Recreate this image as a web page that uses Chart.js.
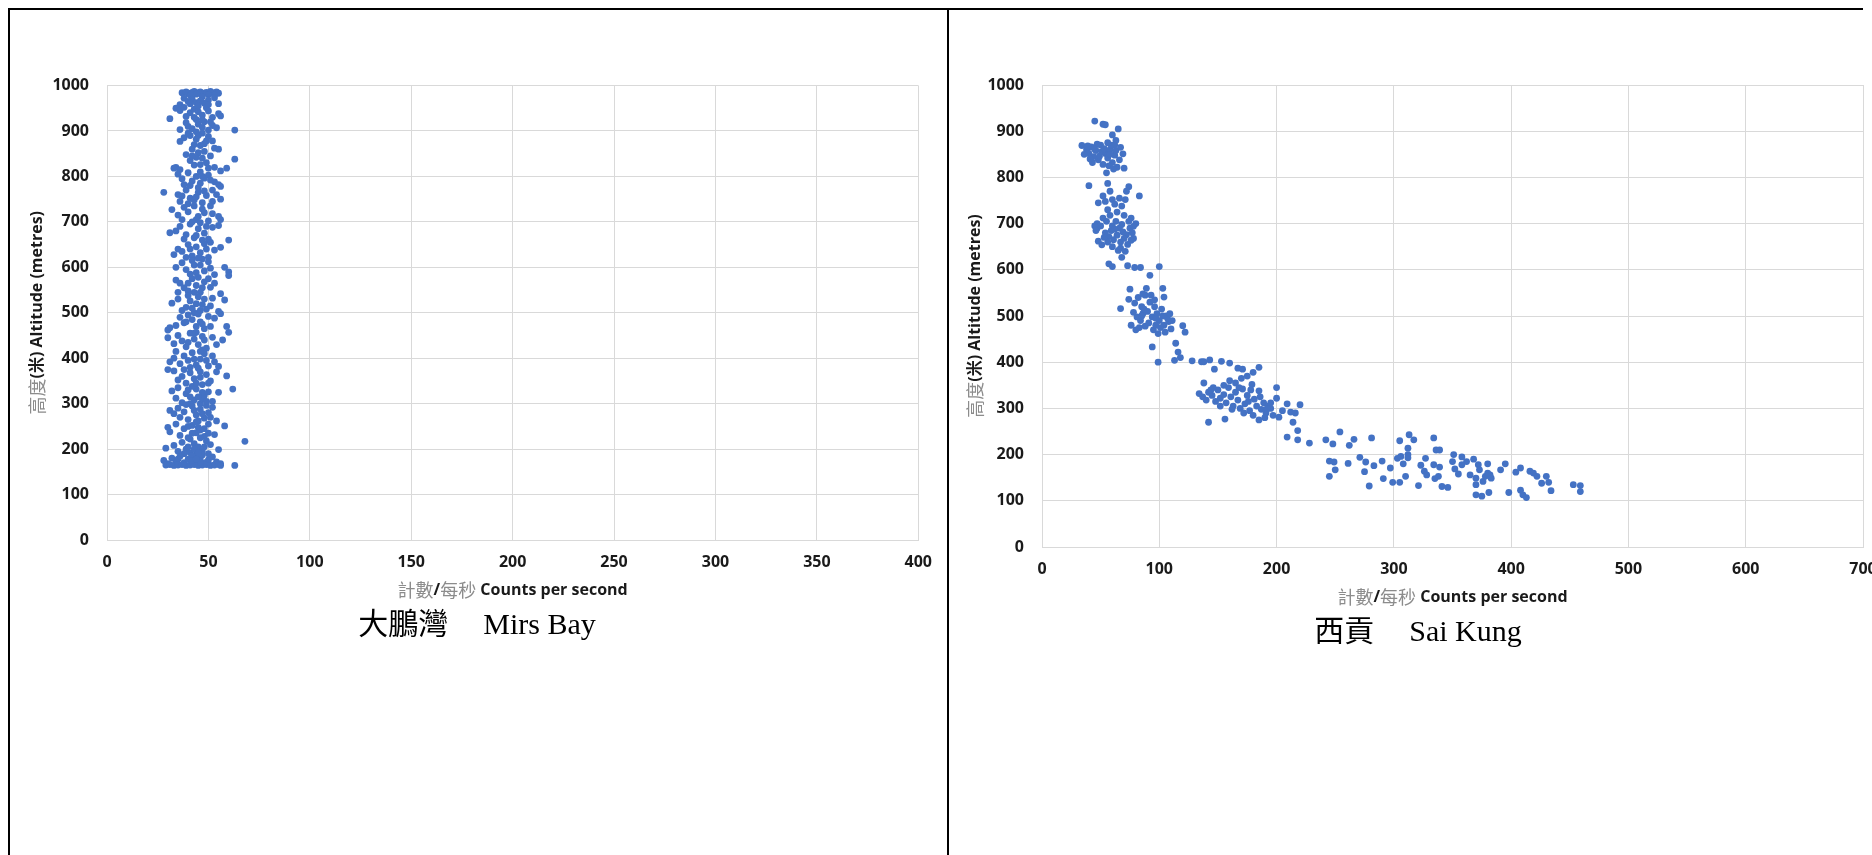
<!DOCTYPE html>
<html>
<head>
<meta charset="utf-8">
<script src="https://cdn.jsdelivr.net/npm/chart.js@4.4.1/dist/chart.umd.min.js"></script>
<style>
  html, body { margin: 0; padding: 0; background: #fff; overflow: hidden; width: 1872px; height: 855px; }
  .line { position: absolute; background: #000; }
  canvas { position: absolute; }
</style>
</head>
<body>
<div class="line" style="left:8px;top:8px;width:1855px;height:2px"></div>
<div class="line" style="left:8px;top:8px;width:2px;height:847px"></div>
<div class="line" style="left:947px;top:8px;width:2px;height:847px"></div>
<canvas id="mirsChart" width="934" height="844" style="left:11px;top:11px"></canvas>
<canvas id="saiChart" width="961" height="844" style="left:951px;top:11px"></canvas>
<script>
// Ejes y etiquetas
const altitudeTicks = [0, 100, 200, 300, 400, 500, 600, 700, 800, 900, 1000];
const mirsTicks = [0, 50, 100, 150, 200, 250, 300, 350, 400];
const saiTicks = [0, 100, 200, 300, 400, 500, 600, 700];
const captions = { mirs: ['大鵬灣', 'Mirs Bay'], sai: ['西貢', 'Sai Kung'] };

// 大鵬灣 Mirs Bay: [計數/每秒, 高度]
const mirsBay = [
  [37,984],[39,986],[40,983],[42,985],[43,987],[45,984],[46,986],[48,983],[49,985],[51,987],[52,984],[54,986],[55,983],[44,981],[50,980],[41,979],[53,979],
  [38,972],[42,970],[47,975],[50,968],[53,973],[44,962],[48,961],[36,958],[55,960],[46,966],[40,965],
  [34,950],[36,945],[38,952],[41,940],[43,948],[47,935],[50,944],[52,930],[55,938],[56,933],[45,942],[31,927],[39,932],[49,951],
  [36,903],[40,910],[42,905],[45,915],[47,908],[48,920],[50,902],[52,912],[54,907],[63,902],[44,925],[39,918],
  [36,877],[38,885],[41,890],[43,870],[44,882],[46,868],[47,895],[49,878],[53,862],[55,860],[42,860],[45,890],[48,872],
  [34,820],[36,815],[39,848],[41,835],[43,825],[45,852],[47,840],[49,830],[51,845],[53,820],[56,812],[59,818],[63,838],[44,842],[46,826],
  [33,818],[35,805],[37,795],[40,808],[42,790],[44,800],[46,785],[48,796],[50,803],[53,788],[55,782],[56,778],[38,782],[28,765],[45,775],[51,792],
  [35,760],[37,757],[39,770],[41,752],[43,748],[45,765],[47,742],[49,758],[52,745],[54,760],[56,750],[36,745],[48,768],
  [32,727],[35,715],[37,705],[40,722],[43,735],[45,712],[47,728],[50,702],[52,718],[55,712],[56,705],[38,732],[44,705],
  [31,676],[34,680],[36,690],[39,672],[41,695],[43,665],[45,685],[48,675],[50,662],[52,688],[55,692],[60,660],[46,698],[38,662],
  [33,628],[35,640],[37,635],[40,650],[42,625],[44,645],[46,632],[48,652],[50,622],[53,638],[56,644],[39,622],[51,655],
  [34,600],[37,610],[39,595],[42,615],[44,588],[46,605],[48,592],[50,612],[53,584],[58,600],[60,590],[60,582],[41,585],[47,618],
  [34,572],[36,565],[38,555],[40,548],[42,575],[44,560],[46,545],[48,568],[51,556],[53,565],[56,542],[35,545],[45,578],
  [32,521],[35,530],[37,505],[39,512],[41,526],[43,500],[45,535],[47,518],[49,508],[52,532],[55,503],[58,528],[40,538],
  [30,462],[31,467],[34,472],[36,490],[38,478],[40,495],[42,485],[44,470],[46,480],[48,465],[50,492],[53,488],[56,498],[59,470],[60,457],[45,497],
  [30,445],[33,432],[35,450],[37,438],[39,425],[41,455],[43,442],[45,430],[47,448],[49,422],[52,446],[54,430],[57,440],[44,457],
  [31,392],[33,400],[34,415],[36,388],[38,405],[40,395],[42,412],[44,385],[46,398],[48,410],[50,383],[53,392],[55,382],[30,375],[47,418],
  [33,372],[35,352],[37,360],[39,345],[41,368],[43,355],[45,378],[47,342],[49,364],[51,350],[54,370],[59,361],[46,358],[38,375],
  [32,328],[34,312],[35,335],[37,302],[39,322],[41,315],[43,308],[44,332],[46,300],[48,318],[50,326],[52,305],[55,325],[62,332],[42,338],[47,310],
  [31,285],[33,278],[35,290],[36,270],[38,282],[40,265],[42,295],[44,275],[46,288],[48,268],[50,280],[52,292],[54,262],[39,298],[45,262],[49,296],
  [30,248],[31,238],[34,255],[36,230],[38,245],[40,225],[42,252],[44,236],[46,242],[48,228],[50,255],[53,232],[58,251],[45,248],[41,222],
  [29,202],[33,208],[35,195],[37,215],[39,200],[41,192],[43,212],[45,205],[47,196],[49,218],[51,210],[55,199],[68,217],[44,188],[38,190],
  [28,175],[30,168],[32,180],[34,172],[36,184],[38,170],[40,178],[42,186],[44,174],[46,182],[48,170],[50,176],[52,183],[54,172],[56,168],[63,164],[35,178],[47,187],
  [29,165],[31,166],[33,164],[35,165],[37,166],[39,164],[41,165],[43,166],[45,164],[47,165],[49,166],[51,164],[53,165],[55,166],[56,164],
  [41,960],[45,955],[50,958],[43,930],[47,925],[51,920],[40,895],[44,898],[50,888],[52,878],[42,845],[48,855],[50,818],[46,810],[41,780],[47,800],
  [52,770],[44,755],[40,740],[48,720],[51,735],[42,700],[49,690],[44,670],[47,660],[41,640],[49,640],[45,620],[43,605],[51,598],[40,565],[47,555],
  [50,575],[43,545],[44,520],[48,530],[51,515],[42,510],[46,505],[39,480],[47,475],[51,470],[43,455],[48,440],[40,435],[46,415],[52,405],[43,398],
  [49,395],[41,380],[46,370],[50,345],[44,345],[40,330],[47,325],[45,315],[41,300],[49,305],[43,285],[47,278],[51,270],[44,260],[40,250],[48,245],
  [42,235],[46,225],[50,235],[43,200],[48,205],[40,205],[45,192],[42,175],[46,172],[50,190],[44,178]
];

// 西貢 Sai Kung: [計數/每秒, 高度]
const saiKung = [
  [45,922],[52,915],[54,914],[65,905],[60,892],[63,880],[34,869],[38,860],[40,852],[42,866],[44,845],[46,858],[48,838],[50,870],[52,828],[54,852],
  [56,842],[58,860],[60,832],[62,848],[64,822],[66,838],[69,851],[70,820],[55,810],[43,832],[47,872],[51,856],[57,825],[59,870],[61,818],[49,846],
  [53,862],[45,861],[63,858],[67,865],[41,840],[58,850],[56,875],[62,870],[36,850],[39,868],
  [40,782],[56,787],[74,780],[83,760],[72,770],[58,770],[52,760],[54,748],[60,752],[66,755],[71,752],[48,745],[62,742],[68,738],[56,730],[64,725],
  [70,718],[76,712],[80,700],[74,705],[47,700],[47,690],[50,695],[52,712],[55,705],[58,718],[60,695],[63,705],[66,690],[69,682],[72,676],[75,690],
  [78,668],[54,680],[57,672],[61,665],[64,675],[67,660],[70,668],[73,655],[76,664],[51,654],[56,660],[60,650],[65,642],[67,647],[71,640],[48,662],
  [53,670],[59,685],[62,688],[68,698],[45,695],[46,685],[57,613],[60,607],[68,627],[73,609],[79,605],[84,605],[78,694],[77,680],
  [100,607],[92,588],[75,558],[74,536],[67,516],[103,560],[104,541],[79,528],[82,540],[85,520],[88,545],[90,510],[92,530],[94,498],[96,520],[98,505],
  [100,490],[102,515],[104,480],[106,500],[108,488],[110,472],[78,508],[81,498],[84,490],[86,505],[88,478],[91,485],[95,470],[97,480],[99,462],[101,475],
  [105,465],[107,495],[109,505],[80,470],[83,475],[87,515],[93,545],[96,535],[89,560],[86,548],[94,433],[99,400],[114,441],[116,422],[120,479],[122,465],
  [118,410],[113,404],[76,480],[103,500],[111,490],[85,500],[97,495],
  [128,403],[136,401],[138,401],[143,405],[153,402],[160,398],[147,385],[138,355],[185,389],[167,387],[171,385],[180,378],[134,332],[137,325],[140,318],[142,335],
  [145,328],[148,315],[150,340],[152,322],[155,330],[157,312],[159,345],[161,325],[163,305],[165,335],[167,318],[169,300],[171,342],[173,310],[175,328],[177,295],
  [179,352],[181,320],[183,305],[185,338],[187,298],[189,312],[191,290],[193,305],[195,300],[197,285],[160,360],[165,355],[170,365],[175,370],[168,345],[178,340],
  [155,350],[146,345],[142,270],[156,277],[200,345],[200,322],[202,281],[209,310],[220,308],[214,270],[218,252],[209,238],[218,232],[228,225],[190,280],[185,275],
  [180,285],[205,295],[212,292],[216,290],[195,312],[172,290],[162,298],[152,305],[144,340],[176,315],[186,325],[192,300],
  [242,232],[248,223],[249,184],[250,167],[254,249],[245,186],[245,153],[262,220],[271,194],[275,163],[276,184],[283,176],[291,148],[290,186],[297,171],[299,140],
  [303,192],[279,132],[261,181],[266,233],[281,236],[313,243],[317,232],[305,230],[312,214],[312,200],[312,193],[306,196],[308,180],[310,153],[305,140],[321,133],
  [327,192],[334,236],[336,210],[339,210],[351,200],[350,185],[358,195],[362,185],[368,190],[358,178],[352,169],[355,158],[323,177],[326,164],[328,156],[334,178],
  [339,173],[338,153],[335,148],[341,131],[346,129],[365,156],[370,149],[372,178],[373,167],[380,180],[376,142],[370,135],[378,153],[382,156],[383,149],[380,160],
  [391,167],[395,180],[370,113],[375,110],[381,118],[398,118],[404,162],[408,171],[408,123],[410,113],[413,107],[416,164],[419,160],[422,153],[430,153],[426,138],
  [432,140],[434,122],[453,135],[459,133],[459,120]
];

const POINT_COLOR = '#4472C4';
const GRID = '#d9d9d9';
const DARK = '#1a1a1a';
const GREY = '#8c8c8c';
const TICK_FONT = { family: "'Open Sans', 'Liberation Sans', sans-serif", size: 16, weight: 'bold' };

// Dibuja texto con varios colores/fuentes seguidos
function drawRuns(ctx, runs, cx, cy) {
  let total = 0;
  runs.forEach(r => { ctx.font = r.font; r.w = ctx.measureText(r.text).width + (r.gap || 0); total += r.w; });
  let x = cx - total / 2;
  ctx.textBaseline = 'middle';
  ctx.textAlign = 'left';
  runs.forEach(r => {
    ctx.font = r.font;
    ctx.fillStyle = r.color;
    ctx.fillText(r.text, x + (r.gap || 0), cy);
    x += r.w;
  });
}

const cjk = "18px 'Noto Sans CJK TC', sans-serif";
const bold = "bold 16px 'Open Sans', 'Noto Sans CJK TC', sans-serif";

const titlesPlugin = {
  id: 'mixedTitles',
  afterDraw(chart, args, opts) {
    const ctx = chart.ctx;
    const a = chart.chartArea;
    ctx.save();
    // título eje X
    drawRuns(ctx, [
      { text: '計數', font: cjk, color: GREY },
      { text: '/', font: bold, color: DARK },
      { text: '每秒', font: cjk, color: GREY },
      { text: ' Counts per second', font: bold, color: DARK }
    ], (a.left + a.right) / 2, a.bottom + 50);
    // título eje Y (rotado)
    ctx.save();
    ctx.translate(opts.yTitleX, (a.top + a.bottom) / 2);
    ctx.rotate(-Math.PI / 2);
    drawRuns(ctx, [
      { text: '高度', font: cjk, color: GREY },
      { text: '(米) Altitude (metres)', font: bold, color: DARK }
    ], 0, 0);
    ctx.restore();
    // leyenda de la celda
    drawRuns(ctx, [
      { text: opts.caption[0], font: "30px 'Liberation Serif', 'Noto Sans CJK TC', serif", color: '#000' },
      { text: opts.caption[1], font: "30px 'Liberation Serif', serif", color: '#000', gap: 35 }
    ], opts.captionX, a.bottom + 86);
    ctx.restore();
  }
};

function makeChart(id, points, xMax, xTicks, cfg) {
  return new Chart(document.getElementById(id), {
    type: 'scatter',
    data: {
      datasets: [{
        data: points.map(p => ({ x: p[0], y: p[1] })),
        backgroundColor: POINT_COLOR,
        borderColor: POINT_COLOR,
        borderWidth: 0,
        pointRadius: 3.4
      }]
    },
    options: {
      responsive: false,
      animation: false,
      events: [],
      layout: { padding: { top: cfg.top, right: cfg.right, left: 0, bottom: 0 } },
      plugins: {
        legend: { display: false },
        tooltip: { enabled: false },
        mixedTitles: { yTitleX: cfg.yTitleX, caption: cfg.caption, captionX: cfg.captionX }
      },
      scales: {
        x: {
          type: 'linear', min: 0, max: xMax,
          afterBuildTicks: s => { s.ticks = xTicks.map(v => ({ value: v })); },
          afterFit: s => { s.height = cfg.xHeight; },
          grid: { color: GRID, lineWidth: 1, drawTicks: false },
          border: { color: GRID, width: 1 },
          ticks: { color: DARK, font: TICK_FONT, padding: 13, maxRotation: 0, callback: v => String(v) }
        },
        y: {
          type: 'linear', min: 0, max: 1000,
          afterBuildTicks: s => { s.ticks = altitudeTicks.map(v => ({ value: v })); },
          afterFit: s => { s.width = cfg.yWidth; },
          grid: { color: GRID, lineWidth: 1, drawTicks: false },
          border: { color: GRID, width: 1 },
          ticks: { color: DARK, font: TICK_FONT, padding: 18, callback: v => String(v) }
        }
      }
    },
    plugins: [titlesPlugin]
  });
}

document.addEventListener('DOMContentLoaded', () => {
  makeChart('mirsChart', mirsBay, 400, mirsTicks,
    { top: 74.5, right: 22, yWidth: 96, xHeight: 315, yTitleX: 26, caption: captions.mirs, captionX: 466 });
  makeChart('saiChart', saiKung, 700, saiTicks,
    { top: 74, right: 49, yWidth: 91, xHeight: 308, yTitleX: 24, caption: captions.sai, captionX: 467 });
});
</script>
</body>
</html>
